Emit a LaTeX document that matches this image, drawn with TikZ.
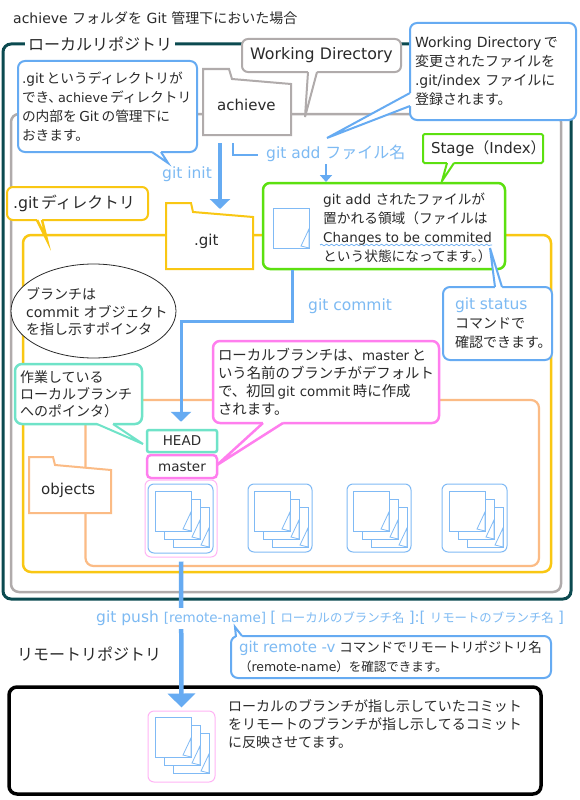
\documentclass[tikz,border=0pt]{standalone}
\usepackage{fontspec}
\setmainfont{DejaVu Sans}
\newfontfamily\cjk{Noto Sans CJK JP}
\newcommand{\J}[1]{{\cjk #1}}
\newcommand{\fs}[2]{\fontsize{#1}{#2}\selectfont}
\newcommand{\gp}{\hspace{2.5pt}}
\usetikzlibrary{arrows.meta,shapes.geometric,decorations.pathmorphing}
\definecolor{ink}{HTML}{2A2A2A}
\definecolor{teald}{HTML}{0B4A50}
\definecolor{grayf}{HTML}{B0ABAB}
\definecolor{yel}{HTML}{F9C713}
\definecolor{ora}{HTML}{FBBB85}
\definecolor{blu}{HTML}{66ABF2}
\definecolor{blut}{HTML}{7DBAF3}
\definecolor{grn}{HTML}{5CE010}
\definecolor{tea}{HTML}{6FE3C8}
\definecolor{mag}{HTML}{FF7EEE}
\definecolor{pnk}{HTML}{FFB4F5}
\definecolor{doc}{HTML}{80BAF5}
\tikzset{
  frameb/.style n args={2}{draw=#1,line width=#2,rounded corners=8},
  callout/.style={draw=#1,fill=white,rounded corners=7,line width=2,inner xsep=5,inner ysep=0,align=left,text=ink,font=\fs{14}{19}},
  sz/.style n args={3}{text width=#1pt-2*#3pt,inner xsep=#3pt,minimum width=#1pt,minimum height=#2pt},
  txt/.style={inner sep=0,anchor=west,align=left,text=ink,font=\fs{14}{19}},
  cmd/.style={inner sep=0,anchor=west,text=blut,font=\fs{15.5}{19}},
  folder/.style={draw=#1,fill=white,line width=2,line join=miter},
  flow/.style={draw=blu,line width=#1,-{Triangle[width=20pt,length=10pt]}},
  docln/.style={draw=doc,line width=.8,fill=white},
  boxthin/.style={draw=#1,line width=1,rounded corners=6}
}
\newcommand{\tailc}[6]{%
  \fill[white] (#2)--(#3)--(#4)--([shift={(#6)}]#4)--([shift={(#6)}]#2)--cycle;
  \draw[#1,line width=#5,line join=miter] (#2)--(#3)--(#4);}
\newcommand{\docpage}[2]{%
  \begin{scope}[shift={(#1,#2)}]
    \draw[docln] (0,0) rectangle (36,40);
    \draw[docln] (36,21)--(28,38)--(36,40)--cycle;
  \end{scope}}
\newcommand{\docstack}[2]{%
  \begin{scope}[shift={(#1,#2)}]
    \docpage{18}{16}\docpage{9}{8}\docpage{0}{0}
  \end{scope}}
\begin{document}
\begin{tikzpicture}[x=1pt,y=-1pt]
\path[use as bounding box,fill=white] (0,0) rectangle (579,800);
% title
\node[txt] (title) at (13,18) {achieve \J{フォルダを} Git \J{管理下においた場合}};
% outer frames
\draw[frameb={teald}{3}] (3,44) rectangle (571,599);
\node[txt,fill=white,inner xsep=3,inner ysep=2,font=\fs{16}{19}] (local) at (25,44) {\J{ローカルリポジトリ}};
\draw[frameb={grayf}{2.5}] (11,114) rectangle (561,592);
\draw[frameb={yel}{2.5}] (23,235) rectangle (551,572);
\draw[frameb={ora}{2.2}] (85.5,400) rectangle (539,566);
% folders
\draw[folder=grayf] (203,69)--(229,69)--(232,79)--(291,84)--(291,135)--(203,135)--cycle;
\node[txt,font=\fs{15}{19}] (achieve) at (217,105) {achieve};
\draw[folder=yel] (166,203)--(191,203)--(193,212)--(253,217)--(253,269)--(166,269)--cycle;
\node[txt,font=\fs{15}{19}] (dotgit) at (194,241) {.git};
\draw[folder=ora] (29,457)--(53,457)--(55,465)--(111,470)--(111,513)--(29,513)--cycle;
\node[txt,font=\fs{15}{19}] (objects) at (41,490) {objects};
% working directory
\node[callout=grayf,sz={159}{33}{6},align=center,font=\fs{15.8}{19},rounded corners=6] (wd) at (321.5,55.5) {Working Directory};
\tailc{grayf}{308,72}{305,117}{317,72}{2}{0,-2}
\node[callout=blu,sz={166}{97}{5}] (wdnote) at (493,71.5) {Working Directory\gp\J{で}\\\J{変更されたファイルを}\\.git/index \J{ファイルに}\\\J{登録されます。}};
\tailc{blu}{410,93}{327,138}{410,106}{2}{2,0}
% .git note
\node[callout=blu,sz={179}{91}{4},font=\fs{13.7}{19}] (initnote) at (107.5,106.5) {.git\gp\J{というディレクトリが}\\\mbox{\J{でき、}\hspace{-4pt}{\fs{12.8}{19}achieve}\hspace{2pt}\J{ディレクトリ}}\\\J{の内部を}\gp Git\gp\J{の管理下に}\\\J{おきます。}};
\tailc{blu}{152,152}{168,163}{161,152}{2}{0,-2}
\node[cmd] (gitinit) at (162,174) {git init};
% git init arrow
\coordinate (initfrom) at (220,143);
\coordinate (initto) at (220,209);
\draw[flow=3.5] (initfrom)--(initto);
% git add
\node[cmd] (gitadd) at (266,153) {git add \J{\fs{16}{19}ファイル名}};
\coordinate (addstart) at (233,143);
\draw[draw=blu,line width=2.5] (addstart)|-(258,155);
\coordinate (addfrom) at (326,164);
\coordinate (addto) at (326,182);
\draw[draw=blu,line width=2.5,-{Triangle[width=12pt,length=7pt]}] (addfrom)--(addto);
% stage label
\node[callout=grn,sz={120}{29}{3},align=center,rounded corners=1.5,font=\fs{15}{19}] (stage) at (483,148.5) {\hspace*{5pt}Stage\J{（}Index\J{）}};
\tailc{grn}{447,163}{442,181}{454,163}{2}{0,-2}
% .git directory label
\node[callout=yel,sz={141}{33}{6},rounded corners=6,font=\fs{15.8}{19}] (gitdir) at (77.5,203.5) {.git\gp\J{ディレクトリ}};
\tailc{yel}{37,220}{47,240}{42,220}{2.5}{0,-2}
% green box
\node[draw=grn,fill=white,line width=2.5,rounded corners=7,minimum width=242,minimum height=86,inner sep=0] (green) at (384,226) {};
\docpage{273}{208}
\draw[blu,line width=.7,decorate,decoration={snake,amplitude=.8,segment length=5}] (320,245)--(492,245);
\node[txt,font=\fs{13.7}{19}] (greentext) at (323,228) {git add \J{されたファイルが}\\\J{置かれる領域（ファイルは}\\{\fs{13.4}{19}Changes to be commited}\\\J{という状態になってます。}\hspace{-7pt}\J{）}};
% ellipse
\node[draw=ink,fill=white,ellipse,line width=.8,minimum width=165,minimum height=94,inner sep=0] (ell) at (93.5,311) {};
\node[txt,font=\fs{14}{17.5}] (elltext) at (26,312) {\J{ブランチは}\\commit \J{オブジェクト}\\\J{を指し示すポインタ}};
% commit connector
\coordinate (cbend1) at (292,321);
\coordinate (cbend2) at (181,321);
\node[callout=tea,sz={70}{22}{2},align=center,rounded corners=2,line width=2.5,font=\fs{13.5}{16}] (head) at (182,441) {HEAD};
\node[callout=mag,sz={70}{23}{2},align=center,rounded corners=4,line width=2.5,font=\fs{13.5}{16}] (master) at (182,466.5) {master};
\draw[flow=3,shorten >=7pt] (green.south -| cbend1)--(cbend1)--(cbend2)--(cbend2 |- head.north);
\node[cmd] (gitcommit) at (308,306) {git commit};
% git status
\node[callout=blu,sz={109}{73}{12},inner xsep=12] (status) at (497.5,323.5) {\textcolor{blut}{\fs{15.5}{19}git status}\\\J{コマンドで}\\\J{確認できます。}};
\tailc{blu}{495,287}{490,248}{502,287}{2}{0,2}
% head note
\node[callout=tea,sz={127}{60}{5},rounded corners=7,line width=2.5,font=\fs{14}{17}] (headnote) at (78.5,394) {\J{作業している}\\\J{ローカルブランチ}\\\J{へのポインタ）}};
\tailc{tea}{97,424}{143,444}{113,424}{2}{0,-2}
% master note
\node[callout=mag,sz={226}{82}{5},line width=2.5,font=\fs{14.4}{18}] (masternote) at (326,382) {\J{ローカルブランチは、}{\fs{13.4}{18}master}\gp\J{と}\\\J{いう名前のブランチがデフォルト}\\\J{で、初回}\gp{\fs{13.4}{18}git commit}\gp\J{時に作成}\\\J{されます。}};
\tailc{mag}{263,423}{217,465}{283,423}{2.5}{0,-2}
% commits
\node[draw=pnk,line width=1,rounded corners=6,minimum width=72,minimum height=77,inner sep=0] (c1outer) at (181,518.5) {};
\node[boxthin=doc,minimum width=65,minimum height=69,inner sep=0] (c1) at (180.5,518.5) {};
\docstack{155}{491}
\node[boxthin=doc,minimum width=64,minimum height=68,inner sep=0] (c2) at (280,518) {};
\docstack{254}{491}
\node[boxthin=doc,minimum width=64,minimum height=68,inner sep=0] (c3) at (379,518) {};
\docstack{353}{491}
\node[boxthin=doc,minimum width=65,minimum height=68,inner sep=0] (c4) at (474.5,518) {};
\docstack{449}{491}
% remote frame
\node[txt,font=\fs{16}{19}] (remotelabel) at (17,654) {\J{リモートリポジトリ}};
\node[draw=black,fill=white,line width=3.5,rounded corners=8,minimum width=532,minimum height=107,inner sep=0] (remote) at (275,740.5) {};
\node[draw=pnk,line width=1,rounded corners=6,minimum width=67,minimum height=71,inner sep=0] (r1) at (181.5,746.5) {};
\docstack{155}{717}
\node[txt,font=\fs{14}{17.8}] (remotetext) at (228,724) {\J{ローカルのブランチが指し示していたコミット}\\\J{をリモートのブランチが指し示してるコミット}\\\J{に反映させてます。}};
% push
\draw[flow=4.5,-{Triangle[width=27pt,length=14pt]},shorten <=4pt,shorten >=3pt] (c1outer.south)--(r1.north);
\node[cmd,fill=white,inner ysep=3,inner xsep=1] (push) at (95,618) {git push \fs{13.5}{19}[remote-name] {\fs{15}{19}[} \J{\fs{12.4}{19}ローカルのブランチ名} {\fs{15}{19}]:[} \J{\fs{12.4}{19}リモートのブランチ名} {\fs{15}{19}]}};
\node[callout=blu,sz={320}{42}{8},font=\fs{13.5}{19}] (remotenote) at (391,657) {\textcolor{blut}{\fs{15}{19}git remote -v}\hspace{4pt}\J{コマンドでリモートリポジトリ名}\\\fs{12.5}{19}\J{（}remote-name\J{）を確認できます。}};
\tailc{blu}{236,637}{235,627}{242,636}{2}{0,3}
\end{tikzpicture}
\end{document}
